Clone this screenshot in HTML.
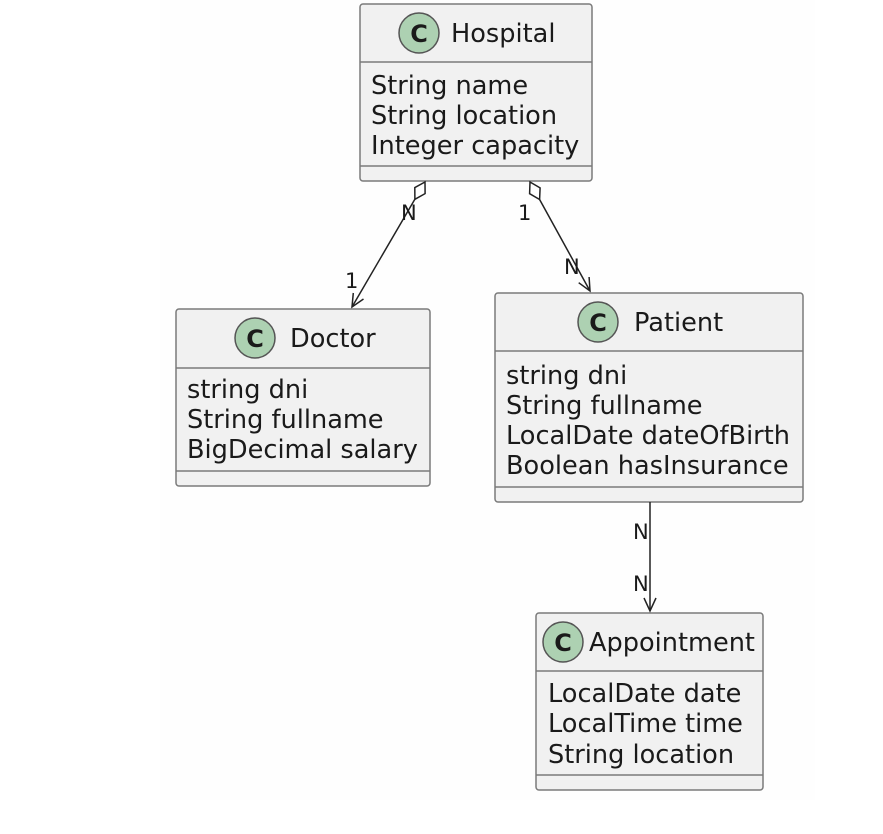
<!DOCTYPE html>
<html><head><style>
html,body{margin:0;padding:0;background:#fff;}
svg{display:block;}
text{font-family:"DejaVu Sans","Liberation Sans",sans-serif;fill:#1a1a1a;}
.t{font-size:25.6px;}
.l{font-size:21px;}
.c{font-size:24px;font-weight:bold;}
</style></head><body>
<svg width="883" height="834" viewBox="0 0 883 834" xmlns="http://www.w3.org/2000/svg">
<rect x="160" y="0" width="655" height="800" fill="#fefefe"/>
<g fill="#f1f1f1" stroke="#7a7a7a" stroke-width="1.5">
<rect x="360" y="4" width="232" height="177" rx="3"/>
<rect x="176" y="309" width="254" height="177" rx="3"/>
<rect x="495" y="293" width="308" height="209" rx="3"/>
<rect x="536" y="613" width="227" height="177" rx="3"/>
</g>
<g stroke="#7a7a7a" stroke-width="1.5">
<line x1="360" y1="62" x2="592" y2="62"/><line x1="360" y1="166" x2="592" y2="166"/>
<line x1="176" y1="368" x2="430" y2="368"/><line x1="176" y1="471" x2="430" y2="471"/>
<line x1="495" y1="351" x2="803" y2="351"/><line x1="495" y1="487" x2="803" y2="487"/>
<line x1="536" y1="671" x2="763" y2="671"/><line x1="536" y1="775" x2="763" y2="775"/>
</g>
<g fill="#add1b2" stroke="#555" stroke-width="1.5">
<circle cx="419" cy="33" r="20"/>
<circle cx="255" cy="338" r="20"/>
<circle cx="598" cy="322" r="20"/>
<circle cx="563" cy="642" r="20"/>
</g>
<text class="c" x="419" y="42" text-anchor="middle">C</text>
<text class="c" x="255" y="347" text-anchor="middle">C</text>
<text class="c" x="598" y="331" text-anchor="middle">C</text>
<text class="c" x="563" y="651" text-anchor="middle">C</text>
<text class="t" x="451" y="42">Hospital</text>
<text class="t" x="290" y="347">Doctor</text>
<text class="t" x="634" y="331">Patient</text>
<text class="t" x="589" y="651">Appointment</text>
<g class="t">
<text class="t" x="371" y="94">String name</text>
<text class="t" x="371" y="124">String location</text>
<text class="t" x="371" y="154">Integer capacity</text>
<text class="t" x="187" y="398">string dni</text>
<text class="t" x="187" y="428">String fullname</text>
<text class="t" x="187" y="458">BigDecimal salary</text>
<text class="t" x="506" y="384">string dni</text>
<text class="t" x="506" y="414">String fullname</text>
<text class="t" x="506" y="444">LocalDate dateOfBirth</text>
<text class="t" x="506" y="474">Boolean hasInsurance</text>
<text class="t" x="548" y="702">LocalDate date</text>
<text class="t" x="548" y="732">LocalTime time</text>
<text class="t" x="548" y="763">String location</text>
</g>
<g stroke="#222" stroke-width="1.5" fill="none">
<line x1="415" y1="199" x2="352" y2="307"/>
<polygon points="425,182 425.1,193.6 414.9,199.3 414.8,187.6" fill="#fff"/>
<polyline points="363.5,299 352,307 353.3,293"/>
<line x1="539.6" y1="199.5" x2="590" y2="291"/>
<polygon points="530,182 540.1,187.9 539.6,199.5 529.6,193.7" fill="#fff"/>
<polyline points="589.1,277 590,291 578.7,282.7"/>
<line x1="650" y1="502" x2="650" y2="611"/>
<polyline points="644,598 650,611 656,598"/>
</g>
<text class="l" x="401" y="220">N</text>
<text class="l" x="345" y="288">1</text>
<text class="l" x="518" y="220">1</text>
<text class="l" x="564" y="274">N</text>
<text class="l" x="633" y="539">N</text>
<text class="l" x="633" y="591">N</text>
</svg>
</body></html>
